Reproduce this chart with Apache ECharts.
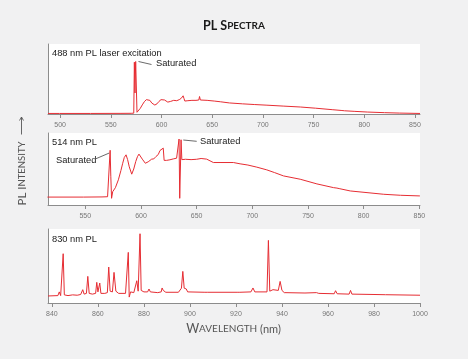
<!DOCTYPE html>
<html>
<head>
<meta charset="utf-8">
<script src="https://cdn.jsdelivr.net/npm/echarts@6/dist/echarts.min.js"></script>
<style>
  html, body { margin: 0; padding: 0; background: #f1f1f2; }
  #chart { width: 468px; height: 359px; }
</style>
</head>
<body>
<div id="chart"></div>
<script>
// tick positions (nm) for each panel
const ticks488 = [500, 550, 600, 650, 700, 750, 800, 850];
const ticks514 = [550, 600, 650, 700, 750, 800, 850];
const ticks830 = [840, 860, 880, 900, 920, 940, 960, 980, 1000];

// spectra: [wavelength nm, relative intensity 0-100]
const pl488 = [
  [488,0.8],[499.4,0.8],[500,2.6],[500.6,0.8],[530,0.8],[560,0.9],[570,1],[572.6,1.2],
  [573.2,74],[573.8,30],[574.5,75],[575.2,73],[575.8,2.5],[577,4],[579,8],[581,13],
  [583,17.5],[585,20.5],[586.8,21.3],[588.5,19.5],[590.5,15.5],[593.4,12.8],[595.5,14.5],
  [597.5,18],[599.5,20.5],[601,21.3],[603,20],[606.2,17],[609,18],[612,19.5],[615,19],
  [617.5,20.5],[619.5,22.5],[620.5,24.5],[621.3,26],[622.2,22],[623,18.5],[626,19],
  [630,19.5],[634,19.5],[636.8,20],[637.5,25],[638.3,20],[645,19.5],[652,18.5],[658,17.5],
  [667,15.8],[680,14.5],[692,13.5],[704,12.6],[720,11.3],[737,10],[752,8.3],[769,6.1],
  [778,5],[779.3,6],[780.5,4.6],[790,3.8],[803,2.8],[820,1.9],[835,1.3],[855,0.8]
];
const pl514 = [
  [516,11],[548.5,11],[549,12.3],[549.5,11],[565,11.2],[570,11.5],[571.6,12],[572.3,76],
  [572.9,40],[573.6,9.3],[574.6,18.5],[577,24],[579.7,35],[582,48],[583.6,58],[585,66],
  [586.6,69.7],[588,63],[589.5,53],[591.7,42.8],[593.5,50],[595.3,60.4],[596.8,67],
  [598.2,70.7],[599.8,68],[601.2,63.7],[603.9,58],[606.5,60],[609.6,63.7],[611.5,64],
  [613.5,67.4],[615.5,70],[617.1,75.7],[618.5,77],[620,79],[620.8,62],[623,62],[626,62.8],
  [629,64],[632,65],[633.6,65.5],[634.2,91.6],[634.8,9.3],[635.4,9.3],[636,90.6],[636.7,63],
  [640,63.5],[645,63],[650,63.5],[654,64.6],[659,63.7],[665,59],[671,59],[683,59],
  [689,57.2],[696,55.5],[704,52.6],[713,48.8],[720,45],[728,40.4],[743,35.8],[758,29.3],
  [773,24.1],[776,23.5],[777,24.5],[778,22.8],[788,19.5],[803,17.2],[818,14.9],[833,13.5],
  [850.5,12.6]
];
const pl830 = [
  [838.3,9.5],[842.6,10],[843.2,15],[843.8,10],[844.4,10.5],[844.9,66.6],[845.4,11],[847,10],
  [849,11],[851,10.5],[852.5,11.5],[853.4,18],[854,12],[855,13],[855.6,36],[856.2,13],
  [857,14],[857.6,12],[859,13],[859.5,27.9],[860,15],[860.3,15],[860.8,27],[861.3,13],
  [863,13],[863.5,15],[864.1,14],[864.7,48.6],[865.3,16],[866.3,15],[867,41.4],[867.8,16],
  [869,13],[872,13],[872.7,15],[873.2,68.4],[873.6,8],[874.2,15],[875,16.6],[875.6,14],
  [876.3,16],[876.9,30.1],[877.5,16],[877.9,17],[878.3,93.6],[878.8,17],[880,15],[881.6,15],
  [882.2,18.9],[882.8,15],[886,14],[887.5,15],[887.9,20.3],[888.4,17],[889,19],[889.5,14.5],
  [895,14.5],[896.3,20],[896.9,42.7],[897.5,20],[898.4,19],[899,15],[906.5,14.5],[907,16.6],
  [907.5,14.5],[920.5,14.5],[921.1,16.6],[921.7,14.5],[926.5,15],[927.4,20.3],[928.2,15],
  [933.5,15],[934.1,84.6],[934.7,16],[935.5,15.5],[936.1,18],[936.7,15.5],[938.4,17],
  [939.2,29.2],[940,17],[941,14],[950,13.5],[955,14],[956,13],[962.7,12.5],[963.3,16.6],
  [964,12.5],[969.2,12],[969.8,17],[970.4,12],[980,11.5],[985,11.2],[1000,10.5]
];

const AXIS = '#8c8c8c';
const RED = '#e62d33';
const SANS = 'Liberation Sans, Arial, sans-serif';
const TITLE = 'Lato, sans-serif';

function xAx(i, min, max, ticks) {
  return {
    type: 'value', gridIndex: i, min: min, max: max,
    axisLine: { show: true, onZero: false, lineStyle: { color: AXIS, width: 1 } },
    axisTick: { show: true, customValues: ticks, length: 4, lineStyle: { color: AXIS } },
    axisLabel: { customValues: ticks, fontSize: 7, color: '#777', margin: 8, fontFamily: SANS,
      formatter: v => String(v) },
    splitLine: { show: false }
  };
}
function yAx(i) {
  return {
    type: 'value', gridIndex: i, min: 0, max: 100,
    axisLine: { show: true, onZero: false, lineStyle: { color: AXIS, width: 1 } },
    axisTick: { show: false }, axisLabel: { show: false }, splitLine: { show: false }
  };
}
function spec(i, data) {
  return {
    type: 'line', xAxisIndex: i, yAxisIndex: i, data: data,
    showSymbol: false, symbol: 'none', smooth: false,
    lineStyle: { color: RED, width: 1 }
  };
}
function label(x, y, text) {
  return { type: 'text', x: x, y: y,
    style: { text: text, fill: '#1a1a1a', font: '9.3px ' + SANS, textVerticalAlign: 'middle' } };
}
function leader(x1, y1, x2, y2) {
  return { type: 'line', shape: { x1: x1, y1: y1, x2: x2, y2: y2 },
    style: { stroke: '#444', lineWidth: 0.8 } };
}

const chart = echarts.init(document.getElementById('chart'));
chart.setOption({
  animation: false,
  backgroundColor: '#f1f1f2',
  grid: [
    { left: 48, right: 48, top: 44, height: 70, show: true, backgroundColor: '#fff', borderWidth: 0 },
    { left: 48, right: 48, top: 133, height: 72, show: true, backgroundColor: '#fff', borderWidth: 0 },
    { left: 48, right: 48, top: 229, height: 74, show: true, backgroundColor: '#fff', borderWidth: 0 }
  ],
  xAxis: [xAx(0, 488, 855, ticks488), xAx(1, 516.5, 850.6, ticks514), xAx(2, 838.3, 1000, ticks830)],
  yAxis: [yAx(0), yAx(1), yAx(2)],
  series: [spec(0, pl488), spec(1, pl514), spec(2, pl830)],
  graphic: [
    { type: 'text', x: 234, y: 26,
      style: { text: '{a|PL S}{b|PECTRA}', textAlign: 'center', textVerticalAlign: 'middle',
        rich: {
          a: { fontSize: 12.5, fontWeight: 'bold', fontFamily: TITLE, fill: '#1a1a1a' },
          b: { fontSize: 10, fontWeight: 'bold', fontFamily: TITLE, fill: '#1a1a1a' }
        } } },
    label(52, 53, '488 nm PL laser excitation'),
    label(52, 142, '514 nm PL'),
    label(52, 239, '830 nm PL'),
    label(156, 63, 'Saturated'),
    leader(138.5, 61.5, 151.5, 64.5),
    label(56, 160.5, 'Saturated'),
    leader(96, 158.7, 109.3, 153),
    label(200, 141, 'Saturated'),
    leader(183.3, 140, 196.7, 141.3),
    { type: 'text', x: 22, y: 173.5, rotation: Math.PI / 2,
      style: { text: '{a|PL I}{b|NTENSITY}', textAlign: 'center', textVerticalAlign: 'middle',
        rich: {
          a: { fontSize: 11.5, fontFamily: TITLE, fill: '#555' },
          b: { fontSize: 9.5, fontFamily: TITLE, fill: '#555' }
        } } },
    leader(21.5, 117.5, 21.5, 134.5),
    { type: 'polyline', shape: { points: [[19.5, 120.5], [21.5, 117], [23.5, 120.5]] },
      style: { stroke: '#444', lineWidth: 0.8, fill: null } },
    { type: 'text', x: 233.5, y: 329,
      style: { text: '{a|W}{b|AVELENGTH}{c| (nm)}', textAlign: 'center', textVerticalAlign: 'middle',
        rich: {
          a: { fontSize: 12.5, fontFamily: TITLE, fill: '#555' },
          b: { fontSize: 10, fontFamily: TITLE, fill: '#555' },
          c: { fontSize: 11, fontFamily: TITLE, fill: '#555' }
        } } }
  ]
});
</script>
</body>
</html>
